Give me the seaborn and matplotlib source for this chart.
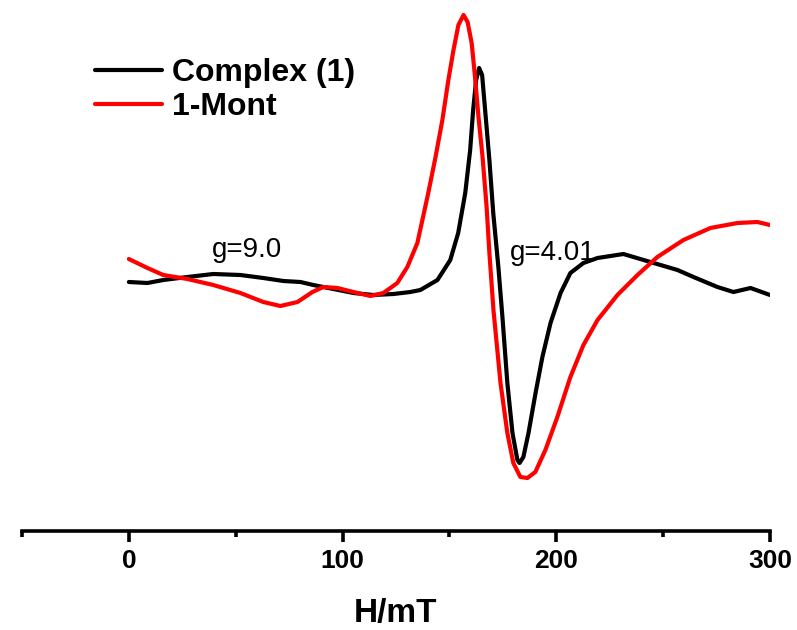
import numpy as np
import pandas as pd
import matplotlib
matplotlib.use("Agg")
import matplotlib.pyplot as plt
import seaborn as sns

# Field (mT) and EPR intensity (a.u.)
complex_h = [0, 8.7, 16.1, 27.4, 39.5, 52.2, 62.9, 72.3, 80.3, 86.3, 95.7, 105.1, 114.4,
             123.8, 131.7, 136.4, 144.4, 150.4, 154.1, 157.4, 159.7, 161.1, 162.5, 163.9,
             165.3, 166.7, 168.7, 170.5, 172.9, 174.8, 177.1, 179.5, 181.8, 182.8, 184.6,
             187, 190.3, 193.5, 197.3, 202, 206.6, 212.7, 219.3, 231.4, 244, 256.7, 264.2,
             275.4, 282.9, 290.9, 300]
complex_i = [3, 2, 5, 8, 11, 10, 7, 4, 3, 0, -4, -8, -10,
             -9, -7, -5, 5, 25, 52, 92, 135, 175, 205, 217,
             210, 175, 125, 72, 18, -32, -98, -148, -175, -178, -172,
             -148, -108, -72, -38, -8, 12, 22, 27, 31, 23, 15, 8,
             -2, -7, -3, -10]

mont_h = [0, 8.7, 16.1, 27.4, 39.5, 52.2, 62.9, 70.9, 78.9, 85.9, 91, 97.6, 105.1, 113,
          119.1, 125.6, 130.3, 135, 140.1, 143.5, 146.7, 149.5, 151.9, 154.2, 156.6, 158.5,
          160.4, 161.8, 163.6, 165.5, 167.4, 168.7, 170.6, 173.9, 177.1, 179.9, 183.2,
          186.5, 190.2, 194.9, 200.5, 206.6, 212.7, 219.3, 228.6, 238, 247.3, 259.5,
          272.1, 284.8, 294.1, 300]
mont_i = [26, 17, 10, 6, 0, -8, -17, -21, -17, -7, -2, -3, -7, -11,
          -8, 2, 18, 42, 92, 128, 165, 205, 235, 260, 270, 263,
          242, 212, 168, 128, 78, 32, -25, -98, -148, -178, -192,
          -193, -187, -165, -132, -92, -60, -35, -10, 10, 28, 45,
          57, 62, 63, 60]

series_names = ["Complex (1)", "1-Mont"]
x_ticks = [0, 100, 200, 300]

df = pd.concat([
    pd.DataFrame({"H": complex_h, "I": complex_i, "sample": series_names[0]}),
    pd.DataFrame({"H": mont_h, "I": mont_i, "sample": series_names[1]}),
])

sns.set_theme(style="white")
plt.rcParams["font.family"] = ["Liberation Sans", "DejaVu Sans"]
plt.rcParams["text.color"] = "black"
plt.rcParams["xtick.color"] = "black"
plt.rcParams["axes.labelcolor"] = "black"

fig = plt.figure(figsize=(7.97, 6.30), dpi=100)
ax = fig.add_axes([22 / 797, (630 - 531) / 630, (770 - 22) / 797, (531 - 5) / 630])

sns.lineplot(data=df, x="H", y="I", hue="sample", sort=False, estimator=None,
             palette={series_names[0]: "#000000", series_names[1]: "#ff0000"},
             linewidth=3.0, ax=ax, legend=True)
for ln in ax.get_lines():
    ln.set_solid_joinstyle("round")
    ln.set_solid_capstyle("round")

ax.set_xlim(-50, 300)
ax.set_ylim(-246, 280)

for s in ["top", "left", "right"]:
    ax.spines[s].set_visible(False)
ax.spines["bottom"].set_linewidth(2.6)
ax.spines["bottom"].set_color("black")

ax.set_xticks(x_ticks)
ax.set_xticklabels([str(t) for t in x_ticks], fontsize=19, fontweight="bold", color="black")
ax.set_xticks([-50, 50, 150, 250], minor=True)
ax.tick_params(axis="x", which="major", direction="out", length=8, width=2.6,
               color="black", pad=5, bottom=True)
ax.tick_params(axis="x", which="minor", direction="out", length=4.5, width=2.6,
               color="black", bottom=True)
ax.set_yticks([])
ax.set_ylabel("")
ax.set_xlabel("H/mT", fontsize=24, fontweight="bold", labelpad=18, color="black")

ax.text(38.9, 28, "g=9.0", fontsize=20, ha="left", va="baseline", color="black")
ax.text(178.5, 25, "g=4.01", fontsize=20, ha="left", va="baseline", color="black")

handles, labels = ax.get_legend_handles_labels()
leg = ax.legend(handles, labels, loc="upper left",
                bbox_to_anchor=(95 / 797, 1 - 58 / 630), bbox_transform=fig.transFigure,
                frameon=False, borderpad=0, borderaxespad=0,
                handlelength=2.1, handletextpad=0.3, labelspacing=0.12,
                prop={"weight": "bold", "size": 23})
for t in leg.get_texts():
    t.set_color("black")
for line in leg.get_lines():
    line.set_linewidth(3.0)

fig.savefig("out.png", dpi=100, facecolor="white")
